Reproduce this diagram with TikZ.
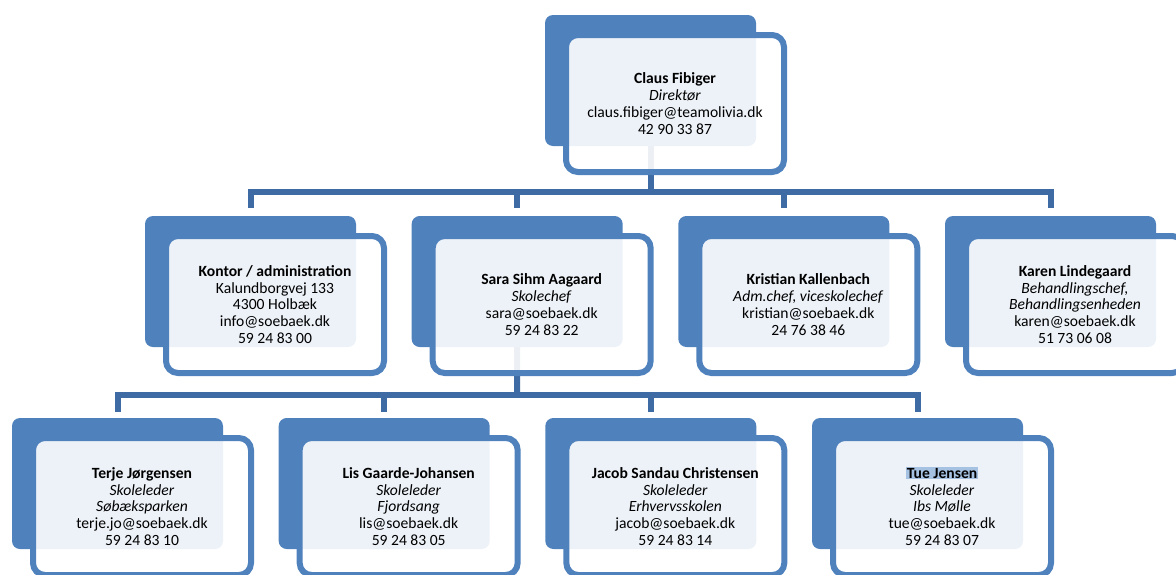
\documentclass[tikz,border=0pt]{standalone}
\usepackage{fontspec}
\setmainfont{Carlito}
\definecolor{boxblue}{HTML}{4F81BD}
\definecolor{connblue}{HTML}{3E6BA3}
\definecolor{hlblue}{HTML}{A6C2E2}
\pgfdeclarelayer{bg}
\pgfsetlayers{bg,main}
\newcommand\orgunit[4]{%
  \node[backbox] (#1-b) at (#2+105.5,#3+65.5) {};
  \node[frontbox] (#1) at (#2+130,#3+88.5) {#4};}
\begin{document}
\begin{tikzpicture}[x=1pt,y=-1pt,
  backbox/.style={fill=boxblue, rounded corners=8pt, minimum width=211pt, minimum height=131pt, inner sep=0pt, outer sep=0pt},
  frontbox/.style={draw=boxblue, line width=6pt, fill=white, fill opacity=0.9, text opacity=1, rounded corners=12pt, minimum width=218pt, minimum height=137pt, inner sep=0pt, align=center, font=\fontsize{15.6}{16.8}\selectfont},
  conn/.style={draw=connblue, line width=6pt, line join=miter}]
\useasboundingbox (0,0) rectangle (1176,574);
\clip (0,0) rectangle (1176,574);

\orgunit{top}{545}{15}{\textbf{Claus Fibiger}\\\textit{Direktør}\\claus.fibiger@teamolivia.dk\\42 90 33 87}

\orgunit{kontor}{145}{216}{\textbf{Kontor / administration}\\Kalundborgvej 133\\4300 Holbæk\\info@soebaek.dk\\59 24 83 00}
\orgunit{sara}{411.67}{216}{\textbf{Sara Sihm Aagaard}\\\textit{Skolechef}\\sara@soebaek.dk\\59 24 83 22}
\orgunit{kristian}{678.33}{216}{\textbf{Kristian Kallenbach}\\\textit{Adm.chef, viceskolechef}\\kristian@soebaek.dk\\24 76 38 46}
\orgunit{karen}{945}{216}{\textbf{Karen Lindegaard}\\\textit{Behandlingschef,}\\\textit{Behandlingsenheden}\\karen@soebaek.dk\\51 73 06 08}

\orgunit{terje}{12}{418}{\textbf{Terje Jørgensen}\\\textit{Skoleleder}\\\textit{Søbæksparken}\\terje.jo@soebaek.dk\\59 24 83 10}
\orgunit{lis}{278.67}{418}{\textbf{Lis Gaarde-Johansen}\\\textit{Skoleleder}\\\textit{Fjordsang}\\lis@soebaek.dk\\59 24 83 05}
\orgunit{jacob}{545.33}{418}{\textbf{Jacob Sandau Christensen}\\\textit{Skoleleder}\\\textit{Erhvervsskolen}\\jacob@soebaek.dk\\59 24 83 14}
\orgunit{tue}{812}{418}{{\setlength{\fboxsep}{0.8pt}\colorbox{hlblue}{\textbf{Tue Jensen}}}\\\textit{Skoleleder}\\\textit{Ibs Mølle}\\tue@soebaek.dk\\59 24 83 07}

\coordinate (bar1) at (650.5,192);
\coordinate (bar2) at (517.2,395);
\begin{pgfonlayer}{bg}
  \draw[conn] (top-b.center) -- (bar1);
  \draw[conn] ([yshift=8pt]kontor-b.north) |- (bar1) -| ([yshift=8pt]karen-b.north);
  \draw[conn] ([yshift=8pt]sara-b.north) -- (sara-b.north |- bar1);
  \draw[conn] ([yshift=8pt]kristian-b.north) -- (kristian-b.north |- bar1);
  \draw[conn] (sara-b.center) -- (bar2);
  \draw[conn] ([yshift=6pt]terje-b.north) |- (bar2) -| ([yshift=6pt]tue-b.north);
  \draw[conn] ([yshift=6pt]lis-b.north) -- (lis-b.north |- bar2);
  \draw[conn] ([yshift=6pt]jacob-b.north) -- (jacob-b.north |- bar2);
\end{pgfonlayer}
\end{tikzpicture}
\end{document}
